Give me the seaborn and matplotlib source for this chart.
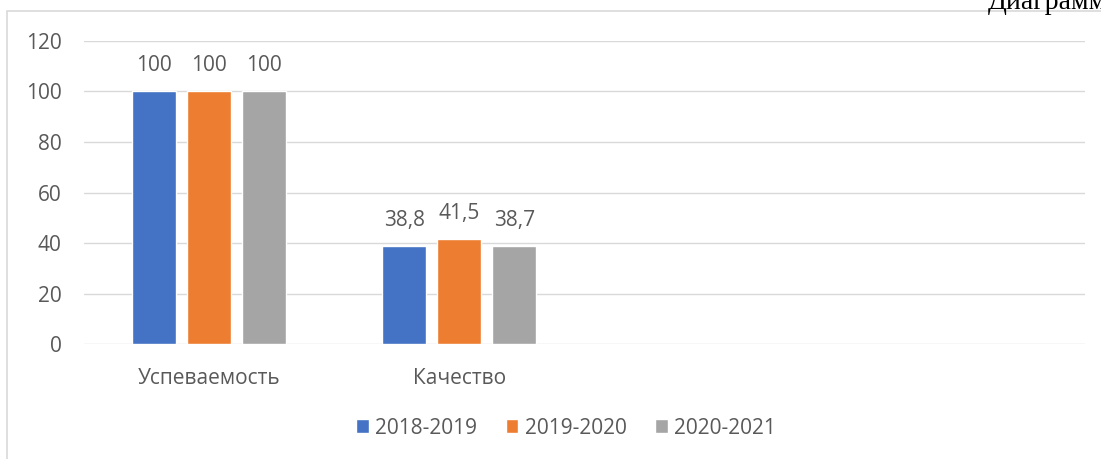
import matplotlib
matplotlib.use("Agg")
import matplotlib.pyplot as plt
import seaborn as sns
import pandas as pd
from matplotlib.patches import Rectangle

# data
categories = ["Успеваемость", "Качество"]
years = ["2018-2019", "2019-2020", "2020-2021"]
v_2018 = [100, 38.8]
v_2019 = [100, 41.5]
v_2020 = [100, 38.7]
colors = ["#4472C4", "#ED7D31", "#A5A5A5"]

rows = []
for yr, vals in zip(years, [v_2018, v_2019, v_2020]):
    for cat, v in zip(categories, vals):
        rows.append({"cat": cat, "year": yr, "val": v})
df = pd.DataFrame(rows)

sns.set_theme(style="white")
plt.rcParams["font.family"] = ["Open Sans", "DejaVu Sans"]
txt = "#595959"
fs = 15

fig = plt.figure(figsize=(11.01, 4.59), dpi=100)
ax = fig.add_axes([0.0763, 0.2505, 0.9092, 0.6602])

sns.barplot(data=df, x="cat", y="val", hue="year", order=categories,
            hue_order=years, palette=colors, width=0.66, gap=0.2,
            saturation=1, ax=ax, legend=True, errorbar=None)

ax.set_xlim(-0.5, 3.5)
ax.set_ylim(0, 120)
ax.set_yticks(range(0, 121, 20))
ax.yaxis.grid(True, color="#d9d9d9", linewidth=1)
ax.set_axisbelow(True)
for s in ax.spines.values():
    s.set_visible(False)
ax.set_xlabel("")
ax.set_ylabel("")
ax.tick_params(axis="y", length=0, pad=16, labelsize=fs, labelcolor=txt)
ax.tick_params(axis="x", length=0, pad=17, labelsize=fs, labelcolor=txt)

for cont in ax.containers:
    labels = [f"{b.get_height():g}".replace(".", ",") for b in cont]
    ax.bar_label(cont, labels=labels, padding=11, fontsize=fs, color=txt)

ax.legend(loc="center", bbox_to_anchor=(566 / 1101, 1 - 428 / 459),
          bbox_transform=fig.transFigure, ncol=3, frameon=False,
          fontsize=fs, labelcolor=txt, handlelength=0.62, handleheight=0.62,
          handletextpad=0.3, columnspacing=1.35)

# chart frame
fig.patches.append(Rectangle((7 / 1101, -0.1), 1.2, 1 - 11 / 459 + 0.1,
                             transform=fig.transFigure, fill=False,
                             edgecolor="#d9d9d9", linewidth=1.2))
fig.text(988 / 1101, 1 - 9 / 459, "Диаграмма", family="Liberation Serif",
         fontsize=20, color="black", va="baseline", ha="left")

fig.savefig("out.png", dpi=100)
